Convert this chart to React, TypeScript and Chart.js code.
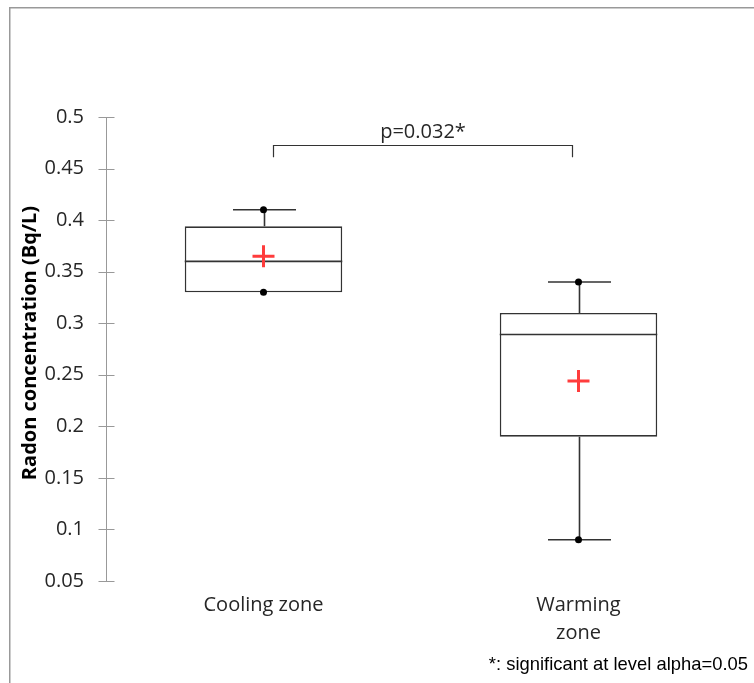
import React, { useEffect, useRef } from "react";
import { Chart, registerables } from "chart.js";

Chart.register(...registerables);

// ---- data ----
const categories: (string | string[])[] = ["Cooling zone", ["Warming", "zone"]];
const minValues = [0.33, 0.09];
const q1Values = [0.33, 0.19];
const medianValues = [0.36, 0.289];
const q3Values = [0.394, 0.31];
const maxValues = [0.41, 0.34];
const meanValues = [0.365, 0.244];
const yTickValues = [0.05, 0.1, 0.15, 0.2, 0.25, 0.3, 0.35, 0.4, 0.45, 0.5];
const yTitle = "Radon concentration (Bq/L)";
const pLabel = "p=0.032*";
const bracketFrom = 0.03; // category index position
const bracketTo = 0.98;
const bracketTop = 0.473;
const bracketBottom = 0.461;
const footnote = "*: significant at level alpha=0.05";

const FONT = "'Open Sans', sans-serif";
const TEXT = "#262626";
const LINE = "#333333";

const boxPlugin = {
  id: "boxExtras",
  beforeDraw(chart: any) {
    const ctx = chart.ctx;
    ctx.save();
    ctx.strokeStyle = "#999999";
    ctx.lineWidth = 1.5;
    ctx.beginPath();
    ctx.moveTo(9.75, 683);
    ctx.lineTo(9.75, 7.75);
    ctx.lineTo(754, 7.75);
    ctx.stroke();
    ctx.restore();
  },
  beforeDatasetsDraw(chart: any) {
    const ctx = chart.ctx;
    const x = chart.scales.x;
    const y = chart.scales.y;
    const meta = chart.getDatasetMeta(0);
    ctx.save();
    ctx.strokeStyle = LINE;
    ctx.lineWidth = 1.6;
    categories.forEach((_, i) => {
      const cx = Math.round(x.getPixelForValue(i)) + 0.5;
      const bw = meta.data[i].width;
      const cap = bw * 0.4;
      const yMax = y.getPixelForValue(maxValues[i]);
      const yMin = y.getPixelForValue(minValues[i]);
      const yQ1 = y.getPixelForValue(q1Values[i]);
      const yQ3 = y.getPixelForValue(q3Values[i]);
      ctx.beginPath();
      ctx.moveTo(cx, yQ3);
      ctx.lineTo(cx, yMax);
      ctx.moveTo(cx - cap / 2, yMax);
      ctx.lineTo(cx + cap / 2, yMax);
      if (yMin - yQ1 > 1) {
        ctx.moveTo(cx, yQ1);
        ctx.lineTo(cx, yMin);
        ctx.moveTo(cx - cap / 2, yMin);
        ctx.lineTo(cx + cap / 2, yMin);
      }
      ctx.stroke();
    });
    ctx.restore();
  },
  afterDatasetDraw(chart: any, args: any) {
    if (args.index !== 0) return;
    const ctx = chart.ctx;
    const x = chart.scales.x;
    const y = chart.scales.y;
    const meta = chart.getDatasetMeta(0);
    ctx.save();
    ctx.strokeStyle = LINE;
    ctx.lineWidth = 1.6;
    categories.forEach((_, i) => {
      const cx = x.getPixelForValue(i);
      const bw = meta.data[i].width;
      const ym = y.getPixelForValue(medianValues[i]);
      ctx.beginPath();
      ctx.moveTo(cx - bw / 2, ym);
      ctx.lineTo(cx + bw / 2, ym);
      ctx.stroke();
    });
    ctx.restore();
  },
  afterDraw(chart: any) {
    const ctx = chart.ctx;
    const x = chart.scales.x;
    const y = chart.scales.y;
    ctx.save();
    // y tick marks crossing the axis
    ctx.strokeStyle = "#999999";
    ctx.lineWidth = 1;
    const ax = Math.round(chart.chartArea.left) + 0.5;
    yTickValues.forEach((v) => {
      const py = Math.round(y.getPixelForValue(v)) + 0.5;
      ctx.beginPath();
      ctx.moveTo(ax - 8, py);
      ctx.lineTo(ax + 8, py);
      ctx.stroke();
    });
    // y title
    ctx.fillStyle = "#000000";
    ctx.font = `bold 20px ${FONT}`;
    ctx.textAlign = "center";
    ctx.textBaseline = "middle";
    ctx.save();
    ctx.translate(30, 343);
    ctx.rotate(-Math.PI / 2);
    ctx.fillText(yTitle, 0, 0);
    ctx.restore();
    // significance bracket
    const bx1 = Math.round(x.getPixelForValue(bracketFrom)) + 0.5;
    const bx2 = Math.round(x.getPixelForValue(bracketTo)) + 0.5;
    const by1 = Math.round(y.getPixelForValue(bracketTop)) + 0.5;
    const by2 = y.getPixelForValue(bracketBottom);
    ctx.strokeStyle = LINE;
    ctx.lineWidth = 1.2;
    ctx.beginPath();
    ctx.moveTo(bx1, by2);
    ctx.lineTo(bx1, by1);
    ctx.lineTo(bx2, by1);
    ctx.lineTo(bx2, by2);
    ctx.stroke();
    ctx.fillStyle = TEXT;
    ctx.font = `20px ${FONT}`;
    ctx.textAlign = "center";
    ctx.textBaseline = "alphabetic";
    ctx.fillText(pLabel, (bx1 + bx2) / 2, by1 - 8);
    // footnote
    ctx.fillStyle = "#000000";
    ctx.font = `18.4px 'Liberation Sans', Arial, sans-serif`;
    ctx.textAlign = "right";
    ctx.textBaseline = "middle";
    ctx.fillText(footnote, 748, 665);
    ctx.restore();
  },
};

export default function App() {
  const ref = useRef<HTMLCanvasElement | null>(null);
  useEffect(() => {
    if (!ref.current) return;
    const chart = new Chart(ref.current, {
      type: "bar",
      data: {
        labels: categories as any,
        datasets: [
          {
            type: "bar",
            data: q1Values.map((q, i) => [q, q3Values[i]]) as any,
            backgroundColor: "#ffffff",
            borderColor: LINE,
            borderWidth: 1.6,
            borderSkipped: false,
            barPercentage: 0.5,
            categoryPercentage: 1,
            order: 5,
          } as any,
          {
            type: "line",
            data: maxValues,
            showLine: false,
            pointStyle: "circle",
            pointRadius: 3.5,
            pointBackgroundColor: "#000000",
            pointBorderColor: "#000000",
            pointBorderWidth: 0,
            order: 2,
          } as any,
          {
            type: "line",
            data: minValues,
            showLine: false,
            pointStyle: "circle",
            pointRadius: 3.5,
            pointBackgroundColor: "#000000",
            pointBorderColor: "#000000",
            pointBorderWidth: 0,
            order: 2,
          } as any,
          {
            type: "line",
            data: meanValues,
            showLine: false,
            pointStyle: "cross",
            pointRadius: 11,
            pointBorderColor: "#ff3c3c",
            pointBorderWidth: 3,
            order: 1,
          } as any,
        ],
      },
      options: {
        animation: false,
        responsive: false,
        devicePixelRatio: 1,
        layout: { padding: { top: 117, right: 18, bottom: 0, left: 0 } },
        plugins: {
          legend: { display: false },
          tooltip: { enabled: false },
          title: { display: false },
        },
        scales: {
          x: {
            type: "category",
            offset: true,
            grid: { display: false, drawTicks: false },
            border: { display: false },
            ticks: {
              color: TEXT,
              font: { family: FONT, size: 20, lineHeight: 1.4 },
              padding: 10,
              maxRotation: 0,
              autoSkip: false,
            },
            afterFit: (s: any) => {
              s.height = 102;
            },
          },
          y: {
            type: "linear",
            min: 0.05,
            max: 0.5,
            grid: { display: false, drawTicks: false },
            border: { display: true, color: "#999999", width: 1 },
            afterBuildTicks: (s: any) => {
              s.ticks = yTickValues.map((v) => ({ value: v }));
            },
            ticks: {
              color: TEXT,
              font: { family: FONT, size: 20 },
              padding: 22,
              callback: (v: any) => String(Number(Number(v).toFixed(2))),
            },
            afterFit: (s: any) => {
              s.width = 106;
            },
          },
        },
      } as any,
      plugins: [boxPlugin],
    });
    return () => chart.destroy();
  }, []);
  return (
    <div style={{ position: "absolute", left: 0, top: 0, width: 754, height: 683, background: "#fff" }}>
      <canvas ref={ref} width={754} height={683} style={{ display: "block", width: 754, height: 683 }} />
    </div>
  );
}
